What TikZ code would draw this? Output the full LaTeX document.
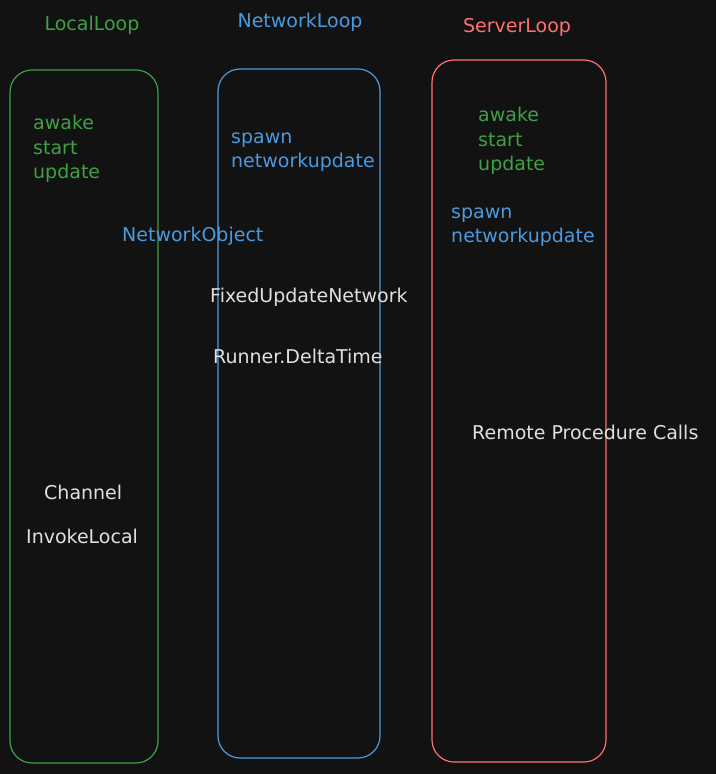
\documentclass[tikz,border=0pt]{standalone}
\usepackage{fontspec}
\setmainfont{DejaVu Sans}
\usetikzlibrary{positioning}
\definecolor{boardbg}{RGB}{18,18,18}
\definecolor{loopgreen}{RGB}{64,160,68}
\definecolor{loopblue}{RGB}{74,154,224}
\definecolor{loopred}{RGB}{255,112,112}
\definecolor{chalk}{RGB}{224,224,224}
\tikzset{
  loopbox/.style={line width=1.2pt,rounded corners=22pt},
  looptitle/.style={font=\fontsize{19}{22}\selectfont},
  looptext/.style={font=\fontsize{19}{24.5}\selectfont,align=left,anchor=west,inner sep=0pt}
}

\begin{document}
\begin{tikzpicture}[x=1pt,y=-1pt]
        \fill[boardbg] (0,0) rectangle (716,774);
        \useasboundingbox (0,0) rectangle (716,774);

        % the three loops
        \draw[loopbox,loopgreen] (10,70) rectangle (158,763);
        \draw[loopbox,loopblue] (218,69) rectangle (380,758);
        \draw[loopbox,loopred] (432,60) rectangle (606,762);

        \node[looptitle,text=loopgreen] (localtitle) at (92,25) {LocalLoop};
        \node[looptitle,text=loopblue] (networktitle) at (300,22) {NetworkLoop};
        \node[looptitle,text=loopred] (servertitle) at (517,27) {ServerLoop};

        % local loop
        \node[looptext,text=loopgreen] (localcalls) at (33,149)
          {awake\\start\\update};
        \node[looptext,text=chalk] (channel) at (44,492) {Channel};
        \node[looptext,text=chalk] (invokelocal) at (26,536) {InvokeLocal};

        % network loop
        \node[looptext,text=loopblue] (networkcalls) at (231,152)
          {spawn\\networkupdate};
        \node[looptext,text=loopblue] (netobject) at (122,236) {NetworkObject};
        \node[looptext,text=chalk] (fixedupdate) at (210,297) {FixedUpdateNetwork};
        \node[looptext,text=chalk] (deltatime) at (213,356) {Runner.DeltaTime};

        % server loop
        \node[looptext,text=loopgreen] (servercalls) at (478,141)
          {awake\\start\\update};
        \node[looptext,text=loopblue] (serverspawn) at (451,227)
          {spawn\\networkupdate};
        \node[looptext,text=chalk] (rpc) at (472,432) {Remote Procedure Calls};
\end{tikzpicture}
\end{document}
